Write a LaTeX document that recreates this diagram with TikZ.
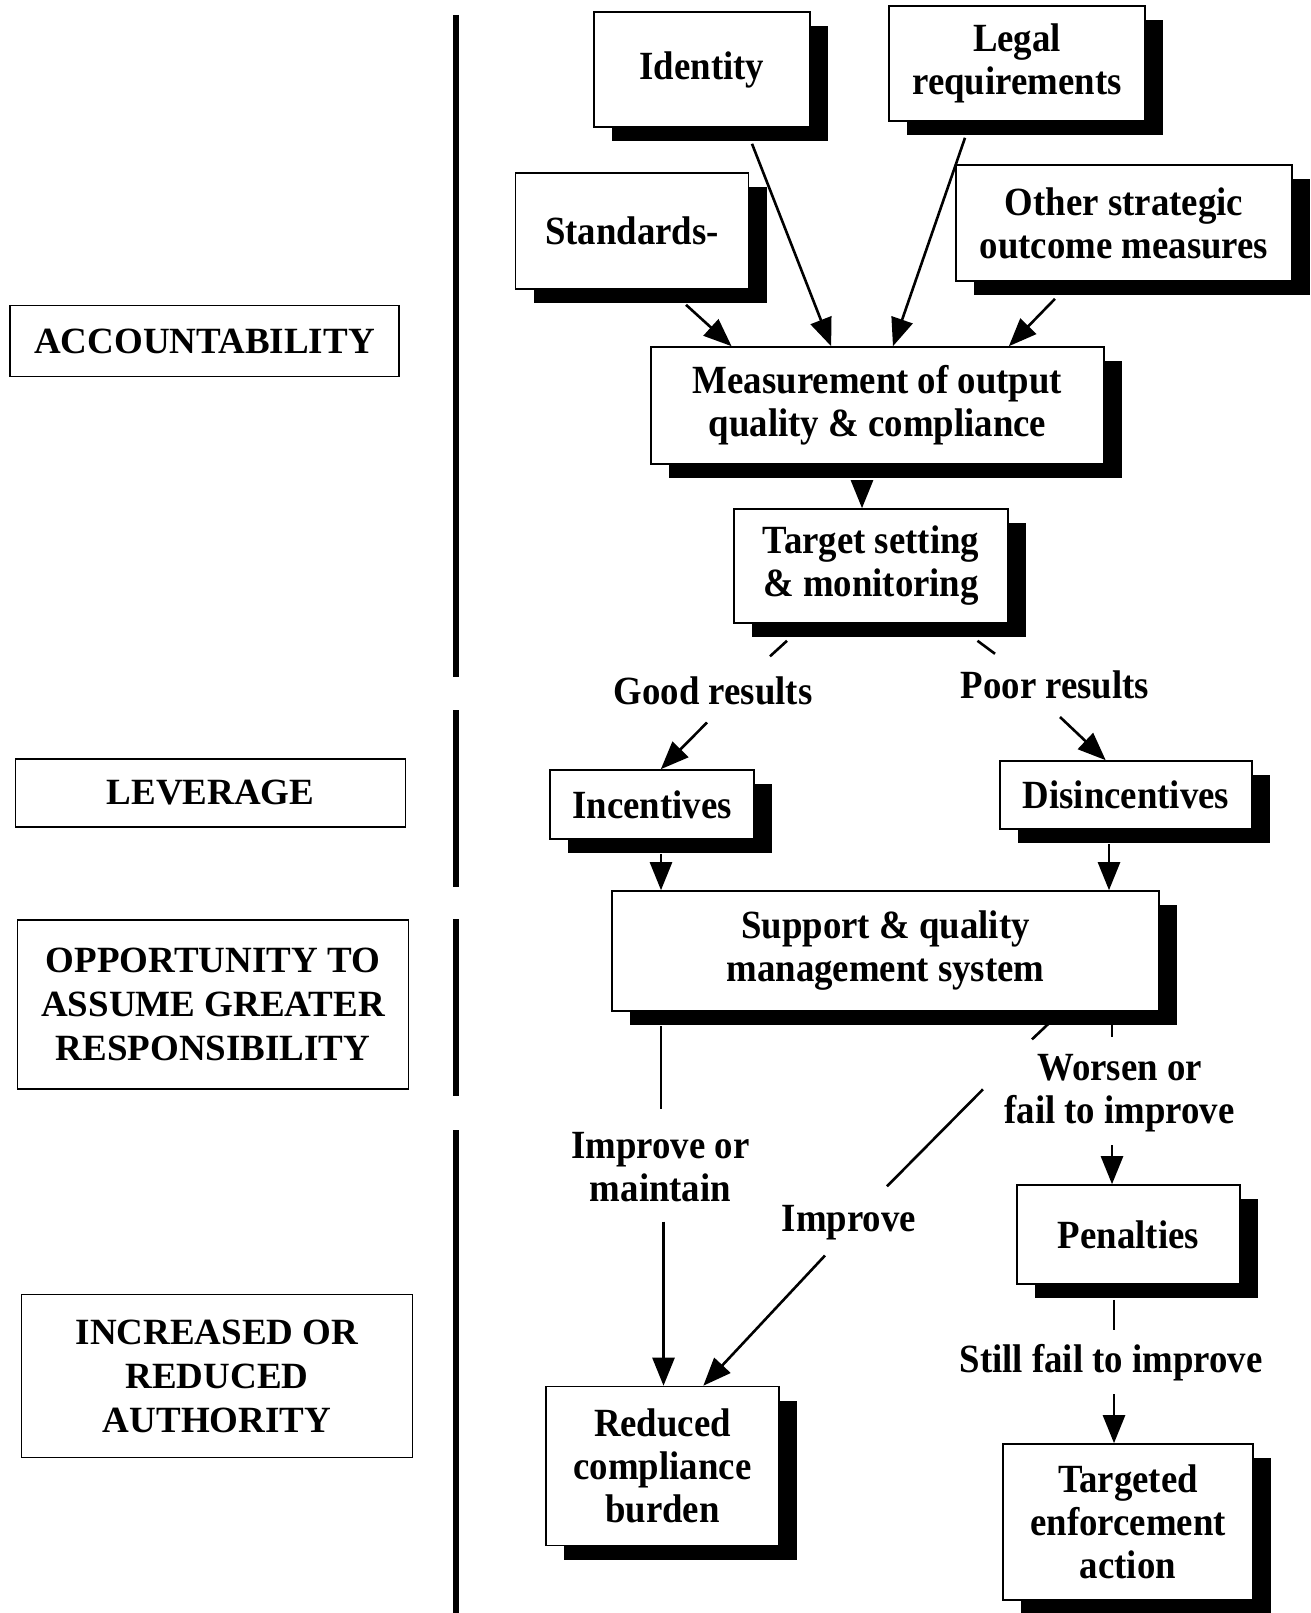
\documentclass[tikz,border=0pt]{standalone}
\usepackage{fontspec}
\setmainfont{Liberation Serif}
\newfontfamily\condfont{Liberation Serif}[FakeStretch=0.92]
\usetikzlibrary{arrows.meta,shadows,calc}
\begin{document}
\begin{tikzpicture}[x=1pt,y=-1pt,
  bx/.style={draw, line width=1.6pt, fill=white, align=center, inner sep=0pt,
    font=\condfont\bfseries\fontsize{40}{43}\selectfont,
    drop shadow={shadow xshift=18pt,shadow yshift=-14pt,fill=black,opacity=1}},
  lbx/.style={draw, line width=1.3pt, align=center, inner sep=0pt,
    font=\bfseries\fontsize{37}{44}\selectfont},
  lbl/.style={align=center, inner sep=0pt, font=\condfont\bfseries\fontsize{40}{43}\selectfont},
  arr/.style={line width=2.6pt, -{Triangle[length=28pt,width=22pt]}},
  ln/.style={line width=2.6pt},
  bar/.style={line width=6pt}]
\fill[white] (0,0) rectangle (1310,1613);
\useasboundingbox (0,0) rectangle (1310,1613);

% vertical separator bars
\draw[bar] (456,15) -- (456,677);
\draw[bar] (456,710) -- (456,887);
\draw[bar] (456,919) -- (456,1096);
\draw[bar] (456,1130) -- (456,1613);

% left category boxes
\node[lbx, minimum width=389pt, minimum height=71pt] (acc) at (204.5,341) {ACCOUNTABILITY};
\node[lbx, minimum width=390pt, minimum height=68pt] (lev) at (210.5,793) {LEVERAGE};
\node[lbx, minimum width=391pt, minimum height=169pt] (opp) at (213,1004.5) {OPPORTUNITY TO\\ASSUME GREATER\\RESPONSIBILITY};
\node[lbx, minimum width=391pt, minimum height=163pt] (inc2) at (217,1376) {INCREASED OR\\REDUCED\\AUTHORITY};

% flow boxes
\node[bx, minimum width=216pt, minimum height=115pt] (id) at (702,69.5) {Identity};
\node[bx, minimum width=256pt, minimum height=115pt] (leg) at (1017,63.5) {Legal\\requirements};
\node[bx, minimum width=233pt, minimum height=116pt] (std) at (632,231) {Standards-};
\node[bx, minimum width=336pt, minimum height=116pt] (oth) at (1124,223) {Other strategic\\outcome measures};
\node[bx, minimum width=453pt, minimum height=117pt] (meas) at (877.5,405.5) {Measurement of output\\quality \& compliance};
\node[bx, minimum width=274pt, minimum height=114pt] (tgt) at (871,566) {Target setting\\\& monitoring};
\node[bx, minimum width=204pt, minimum height=69pt] (inc) at (652,804.5) {Incentives};
\node[bx, minimum width=252pt, minimum height=68pt] (dis) at (1126,795) {Disincentives};
\node[bx, minimum width=547pt, minimum height=120pt] (sup) at (885.5,951) {Support \& quality\\management system};
\node[bx, minimum width=223pt, minimum height=99pt] (pen) at (1128.5,1234.5) {Penalties};
\node[bx, minimum width=233pt, minimum height=159pt] (red) at (662.5,1466) {Reduced\\compliance\\burden};
\node[bx, minimum width=250pt, minimum height=156pt] (tea) at (1128,1522) {Targeted\\enforcement\\action};

% labels
\node[lbl] (good) at (713,690.5) {Good results};
\node[lbl] (poor) at (1055,685) {Poor results};
\node[lbl] (impm) at (660.5,1167) {Improve or\\maintain};
\node[lbl] (imp) at (849,1222.5) {Improve};
\node[lbl] (wor) at (1119.5,1093) {Worsen or\\fail to improve};
\node[lbl] (still) at (1111,1363) {Still fail to improve};

% connectors into measurement
\draw[arr] ($(std.south)+(54,15)$) -- ($(meas.north west)!0.179!(meas.north east)$);
\draw[arr] ($(id.south)+(50,16)$) -- ($(meas.north west)!0.398!(meas.north east)$);
\draw[arr] ($(leg.south)+(-52,16)$) -- ($(meas.north west)!0.534!(meas.north east)$);
\draw[arr] ($(oth.south)+(-69,17)$) -- ($(meas.north west)!0.789!(meas.north east)$);

% measurement -> target
\coordinate (m5) at ($(meas.south)+(-15.5,15)$);
\draw[arr] (m5) -- (m5 |- tgt.north);

% target stubs
\draw[ln] ($(tgt.south)+(-84,17)$) -- ($(tgt.south)+(-101,32.5)$);
\draw[ln] ($(tgt.south)+(106.5,17)$) -- ($(tgt.south)+(124,30)$);

% results -> incentives / disincentives
\draw[arr] ($(good.center)+(-6,32)$) -- ($(inc.north west)!0.543!(inc.north east)$);
\draw[arr] ($(poor.center)+(5,32)$) -- ($(dis.north west)!0.42!(dis.north east)$);

% incentives / disincentives -> support
\coordinate (i9) at ($(inc.south)+(9,14)$);
\draw[arr] (i9) -- (i9 |- sup.north);
\coordinate (d10) at ($(dis.south)+(-17,14)$);
\draw[arr] (d10) -- (d10 |- sup.north);

% support outgoing lines
\draw[ln] ($(sup.south)+(-224.5,14.5)$) -- ($(sup.south)+(-224.5,97.5)$);
\draw[ln] ($(sup.south)+(164.5,10.5)$) -- ($(sup.south)+(146.5,27.5)$);
\draw[ln] ($(sup.south)+(97.5,77.5)$) -- ($(sup.south)+(1.5,174.5)$);
\draw[ln] ($(sup.south)+(226.5,10.5)$) -- ($(sup.south)+(226.5,25.5)$);

% into reduced compliance burden
\coordinate (r12) at ($(impm.center)+(3,54.5)$);
\draw[arr] (r12) -- (r12 |- red.north);
\draw[arr] ($(imp.center)+(-24,33)$) -- ($(red.north west)!0.674!(red.north east)$);

% worsen -> penalties
\coordinate (w17) at ($(wor.center)+(-7.5,52)$);
\draw[arr] (w17) -- (w17 |- pen.north);

% penalties -> targeted enforcement
\draw[ln] ($(pen.south)+(-14.5,15)$) -- ($(pen.south)+(-14.5,45.5)$);
\coordinate (s19) at ($(still.center)+(3,31)$);
\draw[arr] (s19) -- (s19 |- tea.north);
\end{tikzpicture}
\end{document}
